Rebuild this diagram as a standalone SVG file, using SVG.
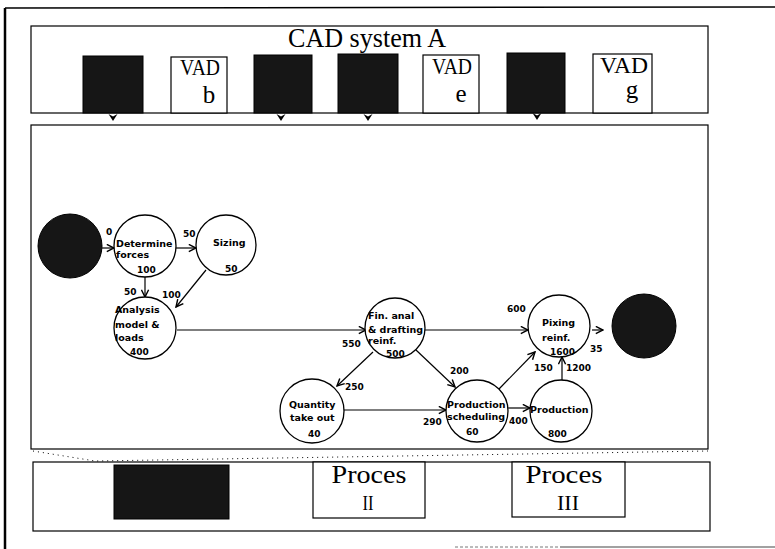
<svg xmlns="http://www.w3.org/2000/svg" width="775" height="549" viewBox="0 0 775 549">
<style>
.frame{fill:none;stroke:#000;stroke-width:1.2}
.blk{fill:#161616;stroke:#000;stroke-width:1}
.wbox{fill:#fff;stroke:#000;stroke-width:1.2}
.node{fill:#fff;stroke:#000;stroke-width:1.3}
.dark{fill:#161616;stroke:#000;stroke-width:1}
.lbl{font-family:"DejaVu Sans",sans-serif;font-weight:bold;font-size:9.5px;fill:#000}
.num{font-family:"DejaVu Sans",sans-serif;font-weight:bold;font-size:9px;fill:#000}
.big{font-family:"Liberation Serif",serif;fill:#000}
.edge{fill:none;stroke:#000;stroke-width:1.2;marker-end:url(#ah)}
.chev{fill:#000}
</style>
<defs>
<marker id="ah" viewBox="0 0 10 10" refX="9" refY="5" markerWidth="9" markerHeight="9" markerUnits="userSpaceOnUse" orient="auto">
<path d="M1,1 L9,5 L1,9" fill="none" stroke="#000" stroke-width="1.6"/>
</marker>
</defs>
<rect width="775" height="549" fill="#fff"/>

<g id="outer-frame">
<line x1="5" y1="8" x2="5" y2="549" stroke="#000" stroke-width="2.5"/>
<line x1="5" y1="8" x2="775" y2="7" stroke="#000" stroke-width="1.5"/>
<line x1="455" y1="547" x2="560" y2="547" stroke="#777" stroke-width="1" stroke-dasharray="3,2"/>
<line x1="560" y1="547" x2="775" y2="547" stroke="#444" stroke-width="1.2"/>
</g>

<g id="cad-system-a">
<rect class="frame" x="31" y="26" width="677" height="87"/>
<text class="big" x="367" y="47" font-size="28" text-anchor="middle" textLength="158" lengthAdjust="spacingAndGlyphs">CAD system A</text>
</g>
<g id="module-a"><rect class="blk" x="83" y="56" width="60" height="57"/></g>
<g id="vad-b"><rect class="wbox" x="171" y="57" width="56" height="56"/>
<text class="big" x="200" y="75" font-size="23" text-anchor="middle" textLength="40" lengthAdjust="spacingAndGlyphs">VAD</text>
<text class="big" x="209" y="103" font-size="25" text-anchor="middle">b</text></g>
<g id="module-c"><rect class="blk" x="254" y="55" width="58" height="58"/></g>
<g id="module-d"><rect class="blk" x="338" y="54" width="60" height="59"/></g>
<g id="vad-e"><rect class="wbox" x="423" y="55" width="56" height="58"/>
<text class="big" x="452" y="74" font-size="23" text-anchor="middle" textLength="40" lengthAdjust="spacingAndGlyphs">VAD</text>
<text class="big" x="461" y="102" font-size="25" text-anchor="middle">e</text></g>
<g id="module-f"><rect class="blk" x="507" y="53" width="58" height="60"/></g>
<g id="vad-g"><rect class="wbox" x="593" y="54" width="59" height="59"/>
<text class="big" x="624" y="73" font-size="23" text-anchor="middle" textLength="48" lengthAdjust="spacingAndGlyphs">VAD</text>
<text class="big" x="632" y="98" font-size="25" text-anchor="middle">g</text></g>

<g id="network-panel">
<rect class="frame" x="31" y="125" width="677" height="324"/>
</g>

<g id="process-panel">
<rect class="frame" x="33" y="462" width="677" height="69"/>
<polyline points="33,451 95,461 708,451" fill="none" stroke="#000" stroke-width="1" stroke-dasharray="1,4"/>
</g>
<g id="proces-i"><rect class="blk" x="114" y="465" width="115" height="54"/></g>
<g id="proces-ii"><rect class="wbox" x="313" y="462" width="112" height="56"/>
<text class="big" x="369" y="483" font-size="26" text-anchor="middle" textLength="75" lengthAdjust="spacingAndGlyphs">Proces</text>
<text class="big" x="368" y="510" font-size="22" text-anchor="middle" textLength="11" lengthAdjust="spacingAndGlyphs">II</text></g>
<g id="proces-iii"><rect class="wbox" x="512" y="462" width="113" height="55"/>
<text class="big" x="564" y="483" font-size="26" text-anchor="middle" textLength="77" lengthAdjust="spacingAndGlyphs">Proces</text>
<text class="big" x="568" y="510" font-size="22" text-anchor="middle" textLength="22" lengthAdjust="spacingAndGlyphs">III</text></g>

<g id="connectors">
<path class="chev" d="M108.5,114 L113,121 L117.5,114 L113,116.5 Z"/>
<path class="chev" d="M276.5,114 L281,121 L285.5,114 L281,116.5 Z"/>
<path class="chev" d="M363.5,114 L368,121 L372.5,114 L368,116.5 Z"/>
<path class="chev" d="M532.5,113 L537,120 L541.5,113 L537,115.5 Z"/>
<path class="edge" d="M102,248 L114,248"/>
<path class="edge" d="M176,248 L196,248"/>
<path class="edge" d="M145,277 L145,297"/>
<path class="edge" d="M206,270 L176,307"/>
<path class="edge" d="M177,330 L366,330"/>
<path class="edge" d="M373,352 L337,386"/>
<path class="edge" d="M416,350 L455,387"/>
<path class="edge" d="M344,410 L446,410"/>
<path class="edge" d="M425,330 L528,330"/>
<path class="edge" d="M499,389 L535,352"/>
<path class="edge" d="M508,408 L530,408"/>
<path class="edge" d="M562,380 L562,357"/>
<path class="edge" d="M592,330 L603,330"/>
<text class="num" x="106" y="235">0</text>
<text class="num" x="183" y="237">50</text>
<text class="num" x="124" y="295">50</text>
<text class="num" x="162" y="298">100</text>
<text class="num" x="342" y="347">550</text>
<text class="num" x="345" y="390">250</text>
<text class="num" x="450" y="374">200</text>
<text class="num" x="423" y="425">290</text>
<text class="num" x="507" y="312">600</text>
<text class="num" x="534" y="371">150</text>
<text class="num" x="566" y="371">1200</text>
<text class="num" x="509" y="424">400</text>
<text class="num" x="590" y="352">35</text>
</g>

<g id="start"><circle class="dark" cx="70" cy="246" r="32"/></g>
<g id="determine-forces"><circle class="node" cx="145" cy="246" r="31"/>
<text class="lbl" x="116" y="247">Determine</text><text class="lbl" x="116" y="258">forces</text>
<text class="num" x="137" y="273">100</text></g>
<g id="sizing"><circle class="node" cx="226" cy="245" r="30"/>
<text class="lbl" x="213" y="246">Sizing</text><text class="num" x="225" y="272">50</text></g>
<g id="analysis"><circle class="node" cx="145" cy="328" r="31"/>
<text class="lbl" x="115" y="313">Analysis</text><text class="lbl" x="115" y="328">model &amp;</text>
<text class="lbl" x="115" y="341">loads</text><text class="num" x="130" y="355">400</text></g>
<g id="fin-anal"><circle class="node" cx="395" cy="328" r="30"/>
<text class="lbl" x="368" y="319">Fin. anal</text><text class="lbl" x="368" y="333">&amp; drafting</text>
<text class="lbl" x="368" y="344">reinf.</text><text class="num" x="386" y="357">500</text></g>
<g id="quantity"><circle class="node" cx="312" cy="411" r="32"/>
<text class="lbl" x="289" y="408">Quantity</text><text class="lbl" x="290" y="421">take out</text>
<text class="num" x="308" y="437">40</text></g>
<g id="production-scheduling"><circle class="node" cx="477" cy="411" r="31"/>
<text class="lbl" x="447" y="408">Production</text><text class="lbl" x="447" y="420">scheduling</text>
<text class="num" x="466" y="435">60</text></g>
<g id="fixing-reinf"><circle class="node" cx="559" cy="326" r="31"/>
<text class="lbl" x="542" y="326">Pixing</text><text class="lbl" x="542" y="341">reinf.</text>
<text class="num" x="550" y="355">1600</text></g>
<g id="production"><circle class="node" cx="561" cy="411" r="31"/>
<text class="lbl" x="530" y="413">Production</text><text class="num" x="548" y="437">800</text></g>
<g id="end"><circle class="dark" cx="644" cy="326" r="32"/></g>
</svg>
